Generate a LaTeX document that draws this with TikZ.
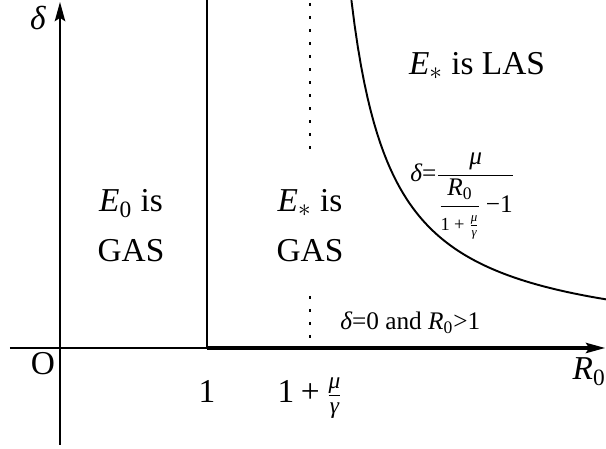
\documentclass[tikz,border=0pt]{standalone}
\usepackage{amsmath}
\usepackage{fontspec}
\setmainfont{Liberation Serif}
\usetikzlibrary{arrows.meta,positioning}

% italic symbols and signs in the text face
\newcommand\vdelta{\text{\itshape δ}}
\newcommand\vmu{\text{\itshape μ}}
\newcommand\vgamma{\text{\itshape γ}}
\newcommand\vE{\text{\itshape E}}
\newcommand\vR{\text{\itshape R}}
\newcommand\vplus{\mathbin{\text{+}}}
\newcommand\vnum[1]{\text{#1}}

\tikzset{
  axis/.style={line width=1.1pt,-{Stealth[length=11pt,width=6pt,inset=2pt]}},
  big/.style={font=\fontsize{19}{22}\selectfont},
  region/.style={big,align=center,anchor=base},
  ticklabel/.style={big,anchor=base},
  small/.style={font=\fontsize{14.4}{17}\selectfont},
  dots/.style={line width=1.5pt,dash pattern=on 1.5pt off 5.9pt}
}

\begin{document}
\begin{tikzpicture}[x=0.02cm,y=0.02cm]
  \useasboundingbox (-60,-101) rectangle (546,348);
  % axes
  \coordinate (O) at (0,0);
  \coordinate (xs) at (-50,0);
  \coordinate (xe) at (545,0);
  \coordinate (ys) at (0,-97);
  \coordinate (ye) at (0,346);
  \coordinate (one) at (147,0);
  \coordinate (onetop) at (147,348);
  \draw[axis] (xs) -- (xe);
  \draw[axis] (ys) -- (ye);
  % delta = 0 and R0 > 1
  \draw[line width=2.8pt] (one) -- (530,0);
  % R0 = 1
  \draw[line width=1.1pt] (one) -- (onetop);
  % R0 = 1 + mu/gamma
  \draw[dots] (250,345) -- (250,196);
  \draw[dots] (250,52) -- (250,3);
  % boundary curve
  \draw[line width=1.1pt,domain=291.4:546,samples=80] plot (\x,{14400/(\x-250)});
  % labels
  \node[big,anchor=base] (dlab) at (-22,318) {$\vdelta$};
  \node[big,anchor=base] (olab) at (-17,-27) {O};
  \node[ticklabel] (onelab) at (147,-55) {1};
  \node[ticklabel] (critlab) at (250,-55) {$\vnum{1}\vplus\frac{\vmu}{\vgamma}$};
  \node[ticklabel,anchor=base east,inner xsep=0pt] (rlab) at (546,-32) {$\vR_{\vnum{0}}$};
  \node[region] (e0a) at (71,136) {$\vE_{\vnum{0}}$ is};
  \node[region] (e0b) at (71,86) {GAS};
  \node[region] (esa) at (250,136) {$\vE_*$ is};
  \node[region] (esb) at (250,86) {GAS};
  \node[region] (las) at (417,273) {$\vE_*$ is LAS};
  \node[small,anchor=base west,inner xsep=0pt] (curvelab) at (350,166)
    {$\vdelta\vnum{=}\dfrac{\vmu}{\dfrac{\vR_{\vnum{0}}}{\mbox{\fontsize{10.5}{12}\selectfont$\vnum{1}\vplus\frac{\vmu}{\vgamma}$}}\,\vnum{−1}}$};
  \node[small,anchor=base west,inner xsep=0pt] (zerolab) at (280,18)
    {$\vdelta\vnum{=}\vnum{0}$ and $\vR_{\vnum{0}}\vnum{>}\vnum{1}$};
\end{tikzpicture}
\end{document}
